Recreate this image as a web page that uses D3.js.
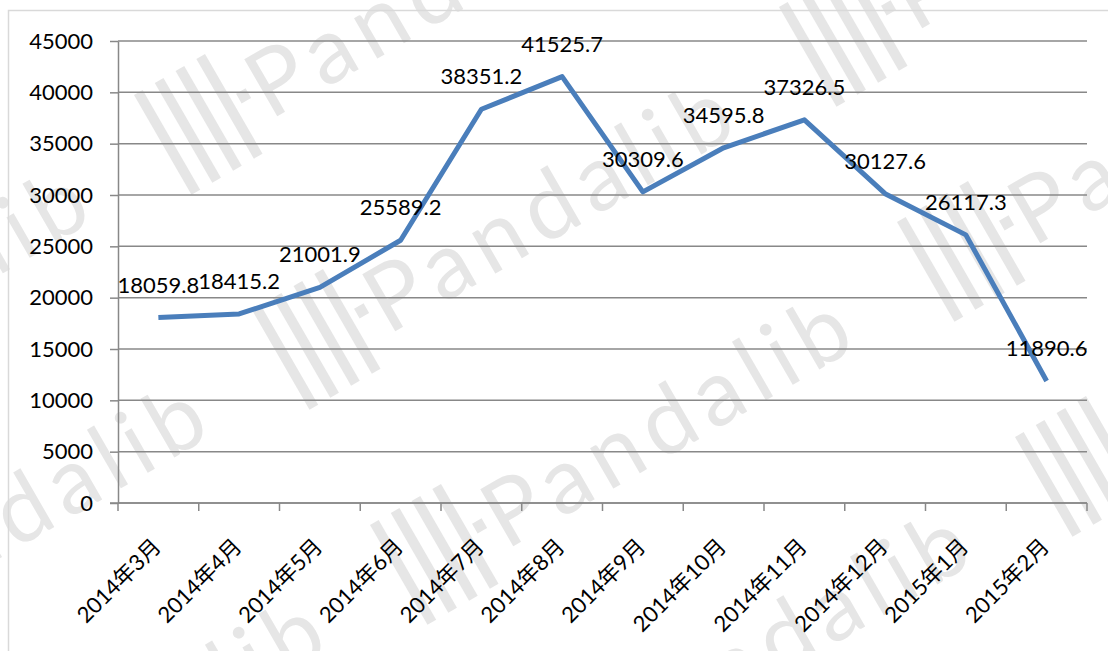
<!DOCTYPE html>
<html>
<head>
<meta charset="utf-8">
<script src="https://cdn.jsdelivr.net/npm/d3@7"></script>
<style>
  body { margin: 0; background: #fff; overflow: hidden; }
  svg text { font-family: Lato, "Noto Sans CJK SC", sans-serif; }
</style>
</head>
<body>
<div id="chart-container"></div>
<script>
//data
var months = ['2014年3月', '2014年4月', '2014年5月', '2014年6月', '2014年7月', '2014年8月',
    '2014年9月', '2014年10月', '2014年11月', '2014年12月', '2015年1月', '2015年2月'];
var values = [18059.8, 18415.2, 21001.9, 25589.2, 38351.2, 41525.7,
    30309.6, 34595.8, 37326.5, 30127.6, 26117.3, 11890.6];
var yTicks = [0, 5000, 10000, 15000, 20000, 25000, 30000, 35000, 40000, 45000];

//sizes
var outerW = 1108,
    outerH = 651,
    margin = { left: 118, right: 21, top: 41, bottom: 148 },
    w = outerW - margin.left - margin.right,
    h = outerH - margin.top - margin.bottom;

var svg = d3.select('#chart-container').append('svg')
    .attr('width', outerW)
    .attr('height', outerH);

//watermark, tiled on a slanted grid
var wmColor = '#e6e6e6',
    wmOrigin = [415, 603],
    wmStepA = [118, 215],
    wmStepB = [645, -88],
    wmSpots = [];
for (var i = -4; i <= 3; i++) {
    for (var j = -2; j <= 2; j++) {
        var px = wmOrigin[0] + i * wmStepA[0] + j * wmStepB[0],
            py = wmOrigin[1] + i * wmStepA[1] + j * wmStepB[1];
        if (px > -700 && px < outerW + 80 && py > -120 && py < outerH + 450) wmSpots.push([px, py]);
    }
}

var wm = svg.selectAll('.wm')
    .data(wmSpots)
    .enter()
    .append('g')
    .attr('class', 'wm')
    .attr('transform', function(d) { return 'translate(' + d[0] + ',' + d[1] + ') rotate(-30)'; })
    .attr('fill', wmColor);
wm.selectAll('.bar')
    .data([0, 24, 48, 72])
    .enter()
    .append('rect')
    .attr('class', 'bar')
    .attr('x', function(d) { return d; })
    .attr('y', -90)
    .attr('width', 10)
    .attr('height', 115);
wm.append('rect')
    .attr('x', 89).attr('y', -40)
    .attr('width', 11).attr('height', 11);
wm.append('text')
    .attr('x', 105)
    .attr('font-size', 92)
    .attr('textLength', 407)
    .attr('lengthAdjust', 'spacing')
    .text('Pandalib');

//outer border
svg.append('path')
    .attr('d', 'M8.5,' + outerH + 'V10.5H' + outerW)
    .attr('fill', 'none')
    .attr('stroke', '#d9d9d9')
    .attr('stroke-width', 1.5);

var g = svg.append('g')
    .attr('transform', 'translate(' + margin.left + ',' + margin.top + ')');

//scales
var xScale = d3.scaleBand().domain(months).range([0, w]);
var yScale = d3.scaleLinear().domain([0, 45000]).range([h, 0]);

//grid
g.selectAll('.grid')
    .data(yTicks)
    .enter()
    .append('line')
    .attr('class', 'grid')
    .attr('x1', 0).attr('x2', w)
    .attr('y1', function(d) { return yScale(d); })
    .attr('y2', function(d) { return yScale(d); })
    .attr('stroke', '#888')
    .attr('stroke-width', 1.5);

//y axis
var yAxis = d3.axisLeft(yScale)
    .tickValues(yTicks)
    .tickFormat(d3.format('d'))
    .tickSize(8)
    .tickPadding(17)
    .tickSizeOuter(0);

var yG = g.append('g').call(yAxis);
yG.selectAll('path, line').attr('stroke', '#888').attr('stroke-width', 1.5);
yG.selectAll('text').attr('font-size', 22).attr('fill', '#000');

//x axis, ticks on band edges
var xG = g.append('g').attr('transform', 'translate(0,' + h + ')');
xG.append('line')
    .attr('x1', -8).attr('x2', w)
    .attr('stroke', '#888').attr('stroke-width', 1.5);
var edges = months.map(function(m) { return xScale(m); }).concat([w]);
xG.selectAll('.xtick')
    .data(edges)
    .enter()
    .append('line')
    .attr('class', 'xtick')
    .attr('x1', function(d) { return d; })
    .attr('x2', function(d) { return d; })
    .attr('y1', 0).attr('y2', 8)
    .attr('stroke', '#888').attr('stroke-width', 1.5);
xG.selectAll('.xlabel')
    .data(months)
    .enter()
    .append('text')
    .attr('class', 'xlabel')
    .attr('transform', function(d) {
        return 'translate(' + (xScale(d) + xScale.bandwidth() / 2 + 4) + ',45) rotate(-45)';
    })
    .attr('text-anchor', 'end')
    .attr('font-size', 22)
    .attr('fill', '#000')
    .text(function(d) { return d; });

//line
var line = d3.line()
    .x(function(d, i) { return xScale(months[i]) + xScale.bandwidth() / 2; })
    .y(function(d) { return yScale(d); });

g.append('path')
    .datum(values)
    .attr('d', line)
    .attr('fill', 'none')
    .attr('stroke', '#4a7ebb')
    .attr('stroke-width', 5)
    .attr('stroke-linejoin', 'round');

//labels
g.selectAll('.val')
    .data(values)
    .enter()
    .append('text')
    .attr('class', 'val')
    .attr('x', function(d, i) { return xScale(months[i]) + xScale.bandwidth() / 2; })
    .attr('y', function(d) { return yScale(d) - 25; })
    .attr('text-anchor', 'middle')
    .attr('font-size', 22)
    .attr('fill', '#000')
    .text(function(d) { return d.toFixed(1); });
</script>
</body>
</html>
